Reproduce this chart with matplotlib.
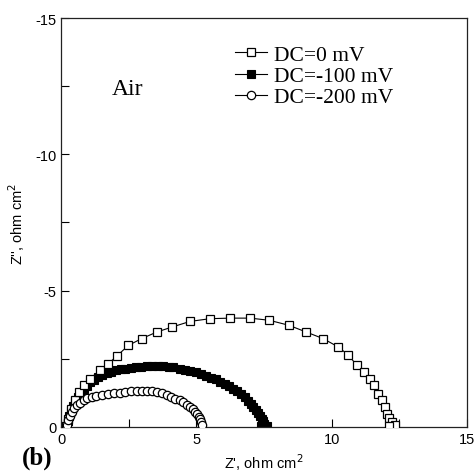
import matplotlib
matplotlib.use("Agg")
import matplotlib.pyplot as plt
from matplotlib.ticker import MultipleLocator

# DC = 0 mV (open squares)
z0_re = [0.20, 0.26, 0.36, 0.50, 0.66, 0.86, 1.07, 1.44, 1.75, 2.06, 2.49, 2.98,
         3.54, 4.09, 4.77, 5.51, 6.25, 6.99, 7.70, 8.41, 9.06, 9.68, 10.25,
         10.62, 10.93, 11.18, 11.43, 11.55, 11.73, 11.86, 11.98, 12.04, 12.10,
         12.23, 12.35, 12.10]
z0_im = [-0.05, -0.30, -0.65, -0.98, -1.28, -1.52, -1.77, -2.08, -2.32, -2.60,
         -2.99, -3.24, -3.48, -3.66, -3.87, -3.97, -3.99, -3.99, -3.91, -3.73,
         -3.48, -3.24, -2.93, -2.63, -2.26, -2.02, -1.77, -1.53, -1.22, -0.98,
         -0.73, -0.49, -0.31, -0.18, -0.06, -0.04]

# DC = -100 mV (filled squares)
z1_re = [0.20, 0.24, 0.30, 0.37, 0.45, 0.53, 0.62, 0.72, 0.83, 0.95, 1.08, 1.22,
         1.36, 1.52, 1.68, 1.85, 2.02, 2.20, 2.38, 2.57, 2.76, 2.96, 3.16, 3.36,
         3.57, 3.78, 3.98, 4.15, 4.40, 4.58, 4.78, 4.97, 5.16, 5.35, 5.53, 5.71,
         5.88, 6.05, 6.21, 6.37, 6.51, 6.65, 6.78, 6.90, 7.01, 7.11, 7.20, 7.28,
         7.35, 7.41, 7.46, 7.50, 7.40, 7.60]
z1_im = [-0.05, -0.22, -0.40, -0.58, -0.76, -0.93, -1.09, -1.24, -1.38, -1.51,
         -1.63, -1.73, -1.82, -1.90, -1.96, -2.02, -2.07, -2.11, -2.14, -2.17,
         -2.19, -2.21, -2.22, -2.23, -2.23, -2.22, -2.21, -2.20, -2.14, -2.10,
         -2.05, -2.00, -1.94, -1.88, -1.81, -1.74, -1.66, -1.58, -1.49, -1.40,
         -1.30, -1.19, -1.08, -0.96, -0.85, -0.73, -0.62, -0.51, -0.40, -0.30,
         -0.20, -0.11, -0.05, -0.05]

# DC = -200 mV (open circles)
z2_re = [0.22, 0.27, 0.33, 0.39, 0.48, 0.58, 0.70, 0.83, 0.97, 1.13, 1.30, 1.50,
         1.72, 1.94, 2.16, 2.37, 2.58, 2.80, 3.00, 3.17, 3.36, 3.54, 3.73, 3.91,
         4.07, 4.22, 4.38, 4.52, 4.65, 4.77, 4.87, 4.96, 5.03, 5.08, 5.12, 5.16,
         5.20]
z2_im = [-0.06, -0.24, -0.40, -0.55, -0.68, -0.79, -0.89, -0.98, -1.05, -1.10,
         -1.15, -1.18, -1.21, -1.23, -1.25, -1.28, -1.30, -1.32, -1.33, -1.32,
         -1.31, -1.28, -1.23, -1.16, -1.10, -1.04, -0.98, -0.91, -0.82, -0.73,
         -0.64, -0.55, -0.46, -0.37, -0.28, -0.18, -0.06]

labels = ["DC=0 mV", "DC=-100 mV", "DC=-200 mV"]

plt.rcParams["font.family"] = ["Liberation Sans", "DejaVu Sans"]
plt.rcParams["axes.unicode_minus"] = False

fig = plt.figure(figsize=(4.77, 4.77), dpi=100)
ax = fig.add_axes([0.128, 0.103, 0.851, 0.857])

ax.plot(z0_re, z0_im, "-", color="black", lw=0.8, marker="s", ms=6,
        mfc="white", mec="black", mew=0.9, label=labels[0], zorder=3)
ax.plot(z1_re, z1_im, "-", color="black", lw=0.8, marker="s", ms=5.3,
        mfc="black", mec="black", mew=0.8, label=labels[1], zorder=2)
ax.plot(z2_re, z2_im, "-", color="black", lw=0.8, marker="o", ms=6,
        mfc="white", mec="black", mew=0.9, label=labels[2], zorder=4)

ax.set_xlim(0, 15)
ax.set_ylim(0, -15)
ax.xaxis.set_major_locator(MultipleLocator(5))
ax.xaxis.set_minor_locator(MultipleLocator(2.5))
ax.yaxis.set_major_locator(MultipleLocator(5))
ax.yaxis.set_minor_locator(MultipleLocator(2.5))
ax.tick_params(which="both", direction="in", top=False, right=False,
               labelsize=10.5, width=0.8, length=6)
for s in ax.spines.values():
    s.set_linewidth(0.9)
    s.set_color("#222222")

ax.set_xlabel("Z', ohm cm$^2$", fontsize=10.5, labelpad=4)
ax.set_ylabel("Z'', ohm cm$^2$", fontsize=10.5, labelpad=6)

ax.text(2.45, -12.4, "Air", fontsize=17, family="Liberation Serif",
        ha="center", va="center")
fig.text(0.078, 0.04, "(b)", fontsize=18, fontweight="bold",
         family="Liberation Serif", ha="center", va="center")

leg = ax.legend(loc="upper left", bbox_to_anchor=(0.428, 0.935), frameon=False,
                prop={"family": "Liberation Serif", "size": 15.5},
                handlelength=1.5, handletextpad=0.3, labelspacing=0.06,
                borderpad=0.0, borderaxespad=0.0)

fig.savefig("out.png", dpi=100)
